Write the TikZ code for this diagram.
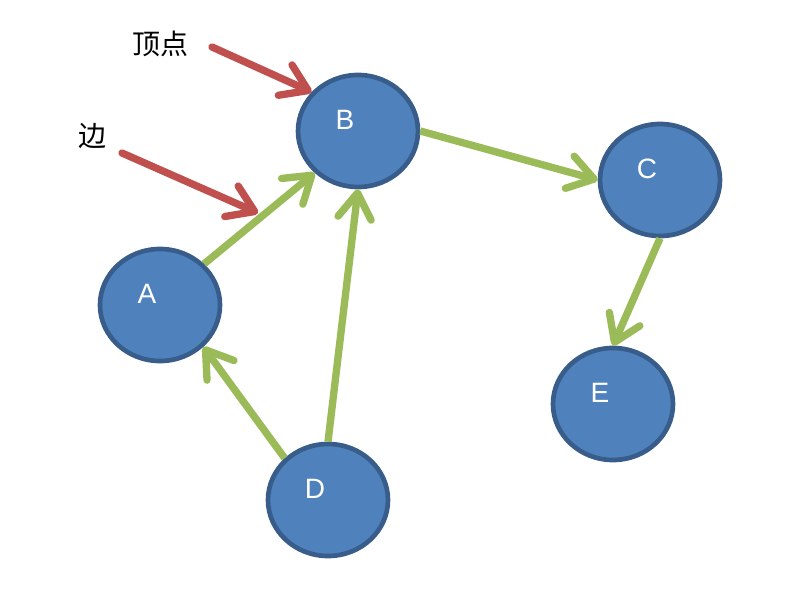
\documentclass[tikz,border=0pt]{standalone}
\usepackage{fontspec}
\newfontfamily\cjk{Noto Sans CJK SC}
\newfontfamily\lsans{Liberation Sans}
\usepackage{xcolor}
\usetikzlibrary{shapes.geometric,arrows.meta,calc}

\definecolor{vfill}{HTML}{4F81BD}
\definecolor{vline}{HTML}{385D8A}
\definecolor{egreen}{HTML}{9BBB59}
\definecolor{pred}{HTML}{C0504D}

\begin{document}
\begin{tikzpicture}[x=0.75pt, y=-0.75pt, thick,
    >={Straight Barb[length=19pt, width=25pt, round]},
    vertex/.style={draw=vline, fill=vfill, ellipse, line width=3.5pt, minimum width=90pt, minimum height=84pt},
    vname/.style={text=white, font=\lsans\fontsize{21}{24}\selectfont, xshift=-9.75pt, yshift=8.25pt},
    edge/.style={draw=egreen, line width=5.5pt, ->},
    pointer/.style={draw=pred, line width=5.5pt, line cap=round, ->},
    note/.style={font=\cjk\fontsize{21}{24}\selectfont}]
    \useasboundingbox (0,0) rectangle (798,591);
    % vertices
    \node [vertex, label={[vname]center:B}] (B) at (358,131) {};
    \node [vertex, label={[vname]center:C}] (C) at (660,180) {};
    \node [vertex, label={[vname]center:A}] (A) at (160,305) {};
    \node [vertex, label={[vname]center:E}] (E) at (613,404) {};
    \node [vertex, label={[vname]center:D}] (D) at (328,500) {};
    % edges
    \path [edge] (A.43) -- (B.224);
    \path [edge] (B.east) -- (C.west);
    \path [edge] (C.south) -- (E.north);
    \path [edge] (D.north) -- (B.south);
    \path [edge] (D.136) -- (A.-44);
    % notes
    \node [note] (tv) at (160,44) {顶点};
    \node [note] (te) at (92,136) {边};
    \coordinate (tvs) at (212,47);
    \coordinate (tes) at (122,153);
    \coordinate (ab) at (258,213);
    \path [pointer] (tvs) -- (B.140);
    \path [pointer] (tes) -- (ab);
\end{tikzpicture}
\end{document}
